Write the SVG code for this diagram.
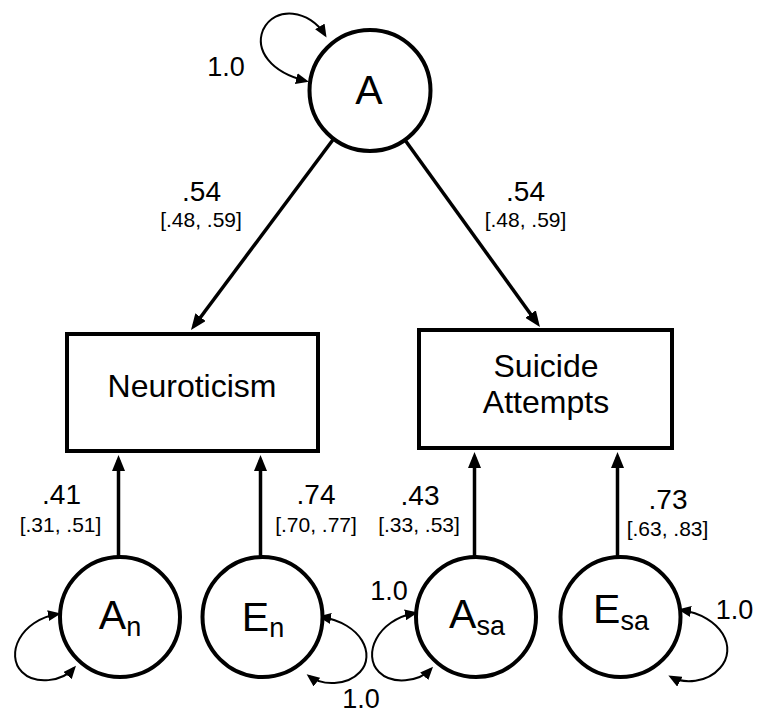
<svg xmlns="http://www.w3.org/2000/svg" width="757" height="715" viewBox="0 0 757 715">
<style>
text{font-family:"Liberation Sans",Arial,sans-serif;fill:#000}
.node{fill:#fff;stroke:#000;stroke-width:4}
.arr{fill:none;stroke:#000;stroke-width:3.5;marker-end:url(#ah)}
.loop{fill:none;stroke:#000;stroke-width:2;marker-start:url(#sh);marker-end:url(#sh)}
.lbl{font-size:32px;text-anchor:middle}
.lat{font-size:41px;text-anchor:middle}
.sub{font-size:27px}
.coef{font-size:28px;text-anchor:middle}
.ci{font-size:21px;text-anchor:middle}
.one{font-size:27px;text-anchor:middle}
</style>
<defs>
<marker id="ah" markerUnits="userSpaceOnUse" markerWidth="16" markerHeight="13" refX="11" refY="6.5" orient="auto"><path d="M0,0 L16,6.5 L0,13 z" fill="#000"/></marker>
<marker id="sh" markerUnits="userSpaceOnUse" markerWidth="13" markerHeight="11" refX="10" refY="5.5" orient="auto-start-reverse"><path d="M0,0 L13,5.5 L0,11 z" fill="#000"/></marker>
</defs>
<g id="connectors">
<line class="arr" x1="333.5" y1="139" x2="194" y2="326"/>
<line class="arr" x1="405" y1="140" x2="537" y2="323"/>
<line class="arr" x1="118.5" y1="557" x2="118.5" y2="460"/>
<line class="arr" x1="260.5" y1="557" x2="260.5" y2="460"/>
<line class="arr" x1="474.5" y1="557" x2="474.5" y2="457"/>
<line class="arr" x1="617.5" y1="557" x2="617.5" y2="457"/>
<path class="loop" d="M 325,35 C 310,10 275,5 263,30 C 255,50 270,72 306,81"/>
<path class="loop" d="M 58,614 C 20,620 5,655 22,672 C 35,685 62,682 74,668"/>
<path class="loop" d="M 321,617 C 362,623 376,655 360,672 C 347,686 322,686 309,676"/>
<path class="loop" d="M 415,613 C 377,620 362,655 379,672 C 392,685 419,682 431,669"/>
<path class="loop" d="M 681,610 C 722,616 738,648 720,668 C 707,683 684,684 671,677"/>
</g>
<g id="labels">
<text class="coef" x="201.5" y="201">.54</text>
<text class="ci" x="201" y="227">[.48, .59]</text>
<text class="coef" x="525.5" y="201">.54</text>
<text class="ci" x="525.5" y="227">[.48, .59]</text>
<text class="coef" x="61.5" y="504">.41</text>
<text class="ci" x="60.5" y="532">[.31, .51]</text>
<text class="coef" x="316" y="504">.74</text>
<text class="ci" x="316" y="532">[.70, .77]</text>
<text class="coef" x="420" y="505">.43</text>
<text class="ci" x="419" y="532">[.33, .53]</text>
<text class="coef" x="668" y="509">.73</text>
<text class="ci" x="667.5" y="536">[.63, .83]</text>
<text class="one" x="226" y="76">1.0</text>
<text class="one" x="389" y="600">1.0</text>
<text class="one" x="734.5" y="619">1.0</text>
<text class="one" x="361" y="708">1.0</text>
</g>
<g id="A">
<circle class="node" cx="370" cy="90.5" r="60.5"/>
<text class="lat" x="369" y="104">A</text>
</g>
<g id="Neuroticism">
<rect class="node" x="67" y="334" width="251" height="117"/>
<text class="lbl" x="192" y="397">Neuroticism</text>
</g>
<g id="SuicideAttempts">
<rect class="node" x="419" y="330" width="253" height="118"/>
<text class="lbl" x="546" y="377">Suicide</text>
<text class="lbl" x="546" y="413">Attempts</text>
</g>
<g id="An">
<circle class="node" cx="120" cy="617" r="60"/>
<text class="lat" x="120" y="629">A<tspan class="sub" dy="7">n</tspan></text>
</g>
<g id="En">
<circle class="node" cx="262.5" cy="617" r="60"/>
<text class="lat" x="263" y="631">E<tspan class="sub" dy="6">n</tspan></text>
</g>
<g id="Asa">
<circle class="node" cx="476" cy="617" r="60"/>
<text class="lat" x="477" y="628">A<tspan class="sub" dy="7">sa</tspan></text>
</g>
<g id="Esa">
<circle class="node" cx="620.5" cy="617" r="60"/>
<text class="lat" x="621" y="623">E<tspan class="sub" dy="7">sa</tspan></text>
</g>
</svg>
